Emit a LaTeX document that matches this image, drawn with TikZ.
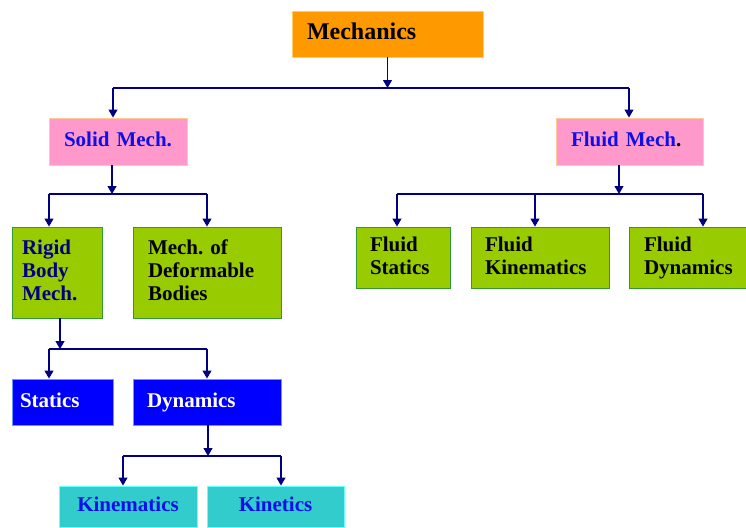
\documentclass[tikz,border=0pt]{standalone}
\usepackage{fontspec}
\setmainfont{Liberation Serif}
\usepackage{tikz}
\usetikzlibrary{arrows.meta,positioning}
\frenchspacing
\definecolor{navyline}{RGB}{0, 0, 128}
\definecolor{topcolor}{RGB}{255, 153, 0}
\definecolor{topborder}{RGB}{255, 204, 102}
\definecolor{branchcolor}{RGB}{255, 153, 204}
\definecolor{branchborder}{RGB}{255, 204, 153}
\definecolor{leafcolor}{RGB}{153, 204, 0}
\definecolor{leafborder}{RGB}{51, 153, 51}
\definecolor{subcolor}{RGB}{0, 0, 255}
\definecolor{subborder}{RGB}{102, 153, 255}
\definecolor{lowcolor}{RGB}{51, 204, 204}
\definecolor{lowborder}{RGB}{102, 255, 255}
\definecolor{bluetext}{RGB}{16, 16, 230}

\begin{document}
\begin{tikzpicture}[x=1pt, y=-1pt,
    box/.style={draw, line width=0.9pt, inner ysep=0pt, execute at end node={\vphantom{y}},
        font=\fontsize{21}{23}\selectfont\bfseries},
    topbox/.style={box, fill=topcolor, draw=topborder, execute at end node={}},
    branchbox/.style={box, fill=branchcolor, draw=branchborder, text=bluetext},
    leafbox/.style={box, fill=leafcolor, draw=leafborder},
    subbox/.style={box, fill=subcolor, draw=subborder, text=white},
    lowbox/.style={box, fill=lowcolor, draw=lowborder, text=bluetext},
    busline/.style={draw=navyline, line width=1.1pt},
    arrowline/.style={busline, -{Triangle[length=8pt,width=9pt]}}]
    \clip (0,0) rectangle (746,527);
    \useasboundingbox (0,0) rectangle (746,527);

    % Top
    \node[topbox, minimum height=46pt, text width=161pt, inner xsep=15pt, align=left, font=\fontsize{24}{26}\selectfont\bfseries] (mech) at (387.5,34) {Mechanics};

    % Branches
    \node[branchbox, minimum height=47pt, text width=138pt, inner xsep=0pt, align=center] (solid) at (118,141.5) {Solid Mech.};
    \node[branchbox, minimum height=47pt, text width=117pt, inner xsep=15pt, align=left] (fluid) at (629.5,141.5) {Fluid Mech{\color{black}.}};

    % Solid mechanics children
    \node[leafbox, minimum height=91pt, text width=70pt, inner xsep=10pt, align=left, text=navyline] (rigid) at (57,272.5) {Rigid\\Body\\Mech.};
    \node[leafbox, minimum height=91pt, text width=118pt, inner xsep=15pt, align=left] (deform) at (207,272.5) {Mech. of\\Deformable\\Bodies};

    % Fluid mechanics children
    \node[leafbox, minimum height=61pt, text width=66pt, inner xsep=14pt, align=left] (fstat) at (403,257.5) {Fluid\\Statics};
    \node[leafbox, minimum height=61pt, text width=110pt, inner xsep=14pt, align=left] (fkin) at (540,257.5) {Fluid\\Kinematics};
    \node[leafbox, minimum height=61pt, text width=93pt, inner xsep=15pt, align=left] (fdyn) at (690.5,257.5) {Fluid\\Dynamics};

    % Rigid body children
    \node[subbox, minimum height=46pt, text width=85pt, inner xsep=8pt, align=left] (stat) at (62.5,402) {Statics};
    \node[subbox, minimum height=46pt, text width=120pt, inner xsep=14pt, align=left] (dyn) at (207,402) {Dynamics};

    % Dynamics children
    \node[lowbox, minimum height=41pt, text width=138pt, inner xsep=0pt, align=center] (kinem) at (128,506.5) {Kinematics};
    \node[lowbox, minimum height=41pt, text width=137pt, inner xsep=0pt, align=center] (kinet) at (275.5,506.5) {Kinetics};

    % Bus points
    \coordinate (b1l) at (113,88);   \coordinate (b1r) at (629,88);
    \coordinate (b2) at (112,194);   \coordinate (b2l) at (49,194);  \coordinate (b2r) at (207,194);
    \coordinate (b3) at (619,194);   \coordinate (b3l) at (397,194); \coordinate (b3m) at (535,194); \coordinate (b3r) at (703,194);
    \coordinate (b4) at (60,349);    \coordinate (b4l) at (49,349);  \coordinate (b4r) at (207,349);
    \coordinate (b5) at (208,456);   \coordinate (b5l) at (123,456); \coordinate (b5r) at (281,456);

    % Mechanics -> branches
    \draw[arrowline] (mech) -- (mech |- b1l);
    \draw[busline] (b1l) -- (b1r);
    \draw[arrowline] (b1l) -- (b1l |- solid.north);
    \draw[arrowline] (b1r) -- (b1r |- fluid.north);

    % Solid Mech. -> children
    \draw[arrowline] (b2 |- solid.south) -- (b2);
    \draw[busline] (b2l) -- (b2r);
    \draw[arrowline] (b2l) -- (b2l |- rigid.north);
    \draw[arrowline] (b2r) -- (b2r |- deform.north);

    % Fluid Mech. -> children
    \draw[arrowline] (b3 |- fluid.south) -- (b3);
    \draw[busline] (b3l) -- (b3r);
    \draw[arrowline] (b3l) -- (b3l |- fstat.north);
    \draw[arrowline] (b3m) -- (b3m |- fkin.north);
    \draw[arrowline] (b3r) -- (b3r |- fdyn.north);

    % Rigid Body Mech. -> children
    \draw[arrowline] (b4 |- rigid.south) -- (b4);
    \draw[busline] (b4l) -- (b4r);
    \draw[arrowline] (b4l) -- (b4l |- stat.north);
    \draw[arrowline] (b4r) -- (b4r |- dyn.north);

    % Dynamics -> children
    \draw[arrowline] (b5 |- dyn.south) -- (b5);
    \draw[busline] (b5l) -- (b5r);
    \draw[arrowline] (b5l) -- (b5l |- kinem.north);
    \draw[arrowline] (b5r) -- (b5r |- kinet.north);
\end{tikzpicture}
\end{document}
